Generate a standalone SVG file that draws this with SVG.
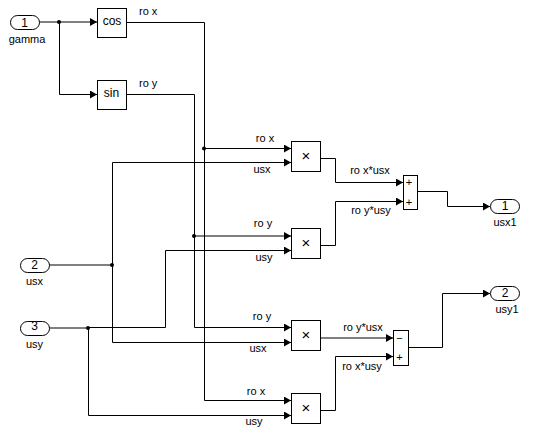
<svg xmlns="http://www.w3.org/2000/svg" width="540" height="432" viewBox="0 0 540 432">
<style>
text{font-family:"Liberation Sans",Arial,sans-serif;font-size:11px;fill:#000}
.m{text-anchor:middle}
.b{fill:#fff;stroke:#000;stroke-width:1}
.w{fill:none;stroke:#000;stroke-width:1}
.a{fill:#000;stroke:none}
.j{fill:#000;stroke:none}
.s{font-size:12px}
.x{font-size:15px}
</style>
<defs>
<marker id="ah" markerUnits="userSpaceOnUse" markerWidth="7" markerHeight="8" refX="7" refY="4" orient="auto"><path class="a" d="M0 0L7 4L0 8Z"/></marker>
</defs>
<rect width="540" height="432" fill="#fff"/>
<g id="connectors">
<path class="w" d="M39 22H97" marker-end="url(#ah)"/>
<path class="w" d="M59.500 22.500V94.500H97" marker-end="url(#ah)"/>
<path class="w" d="M127 22.500H204.500V400.500H291" marker-end="url(#ah)"/>
<path class="w" d="M204.500 148.500H291" marker-end="url(#ah)"/>
<path class="w" d="M127 94.500H194.500V327.500H291" marker-end="url(#ah)"/>
<path class="w" d="M194.500 236H291" marker-end="url(#ah)"/>
<path class="w" d="M49 265H112"/>
<path class="w" d="M112.500 265V162.500H291" marker-end="url(#ah)"/>
<path class="w" d="M112.500 265V342.500H291" marker-end="url(#ah)"/>
<path class="w" d="M49 328H88"/>
<path class="w" d="M88 327.500H165.500V250.500H291" marker-end="url(#ah)"/>
<path class="w" d="M88.500 328V415.500H291" marker-end="url(#ah)"/>
<path class="w" d="M321 158.500H335.500V182.500H403" marker-end="url(#ah)"/>
<path class="w" d="M321 245.500H335.500V201.500H403" marker-end="url(#ah)"/>
<path class="w" d="M321 338H393" marker-end="url(#ah)"/>
<path class="w" d="M321 410.500H335.500V356.500H393" marker-end="url(#ah)"/>
<path class="w" d="M418 191.500H447.500V206.500H490" marker-end="url(#ah)"/>
<path class="w" d="M408 347.500H442.500V293.500H490" marker-end="url(#ah)"/>
<circle class="j" cx="59" cy="22" r="2"/>
<circle class="j" cx="204" cy="148.500" r="2"/>
<circle class="j" cx="194" cy="236" r="2"/>
<circle class="j" cx="112" cy="265" r="2"/>
<circle class="j" cx="88" cy="328" r="2"/>
</g>
<g id="in1"><rect class="b" x="10.500" y="15.500" width="29" height="14" rx="7"/><text class="m s" x="24.500" y="27">1</text><text class="m" x="27" y="43">gamma</text></g>
<g id="in2"><rect class="b" x="20.500" y="258.500" width="29" height="14" rx="7"/><text class="m s" x="34.500" y="269">2</text><text class="m" x="34.500" y="285">usx</text></g>
<g id="in3"><rect class="b" x="20.500" y="321.500" width="29" height="14" rx="7"/><text class="m s" x="34.500" y="330">3</text><text class="m" x="34.500" y="348">usy</text></g>
<g id="cos"><rect class="b" x="97.500" y="8.500" width="29" height="29"/><text class="m s" x="112" y="25">cos</text></g>
<g id="sin"><rect class="b" x="97.500" y="80.500" width="29" height="29"/><text class="m s" x="111.500" y="97">sin</text></g>
<g id="prod1"><rect class="b" x="291.500" y="141.500" width="29" height="30"/><text class="m x" x="306" y="161">×</text></g>
<g id="prod2"><rect class="b" x="291.500" y="228.500" width="29" height="30"/><text class="m x" x="306" y="248">×</text></g>
<g id="prod3"><rect class="b" x="291.500" y="320.500" width="29" height="30"/><text class="m x" x="306" y="340">×</text></g>
<g id="prod4"><rect class="b" x="291.500" y="393.500" width="29" height="30"/><text class="m x" x="306" y="413">×</text></g>
<g id="sum1"><rect class="b" x="403.500" y="175.500" width="14" height="34"/><text class="m" x="409" y="186">+</text><text class="m" x="409" y="206">+</text></g>
<g id="sum2"><rect class="b" x="393.500" y="330.500" width="15" height="35"/><text class="m" x="399.500" y="342">−</text><text class="m" x="399.500" y="361">+</text></g>
<g id="out1"><rect class="b" x="490.500" y="199.500" width="29" height="14" rx="7"/><text class="m s" x="505" y="210">1</text><text class="m" x="505" y="226">usx1</text></g>
<g id="out2"><rect class="b" x="490.500" y="286.500" width="29" height="14" rx="7"/><text class="m s" x="505" y="297">2</text><text class="m" x="507" y="313">usy1</text></g>
<g id="labels">
<text x="139" y="15">ro x</text>
<text x="139" y="87">ro y</text>
<text class="m" x="265" y="142">ro x</text>
<text class="m" x="262" y="173">usx</text>
<text class="m" x="370" y="174">ro x*usx</text>
<text class="m" x="371" y="214">ro y*usy</text>
<text class="m" x="263" y="227">ro y</text>
<text class="m" x="264" y="261">usy</text>
<text class="m" x="262" y="320">ro y</text>
<text class="m" x="258" y="352">usx</text>
<text class="m" x="363" y="331">ro y*usx</text>
<text class="m" x="362" y="370">ro x*usy</text>
<text class="m" x="256" y="395">ro x</text>
<text class="m" x="254" y="425">usy</text>
</g>
</svg>
